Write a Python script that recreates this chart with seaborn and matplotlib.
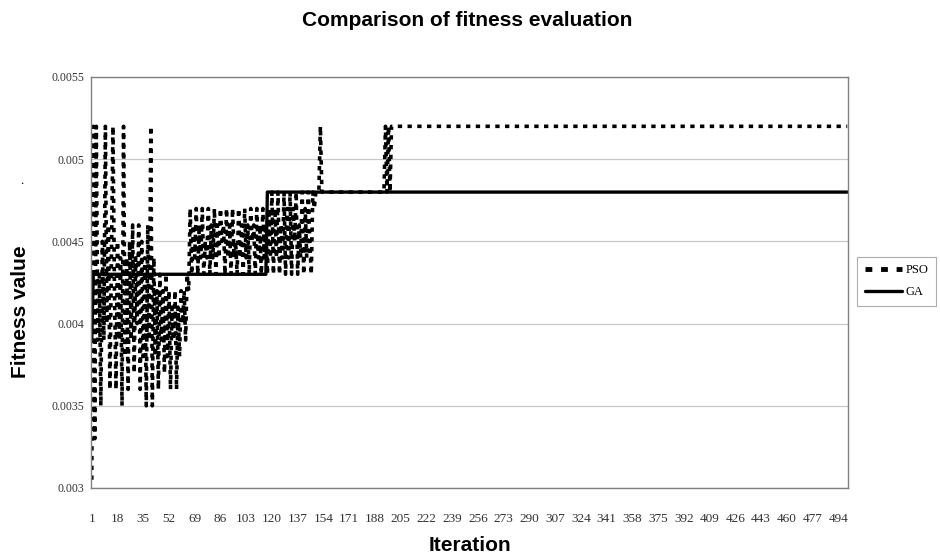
import numpy as np
import pandas as pd
import matplotlib
matplotlib.use("Agg")
import matplotlib.pyplot as plt
import seaborn as sns
from matplotlib.ticker import MultipleLocator
from matplotlib.lines import Line2D

# iterations 1..500
iterations = list(range(1, 501))

# PSO best fitness per iteration
pso_early = [
    0.00305, 0.0052, 0.0033, 0.0052, 0.0039, 0.0043, 0.0035, 0.0045, 0.0039, 0.0052,
    0.0040, 0.0046, 0.0036, 0.0044, 0.0052, 0.0042, 0.0036, 0.0045, 0.0039, 0.0044,
    0.0035, 0.0052, 0.0038, 0.0044, 0.0036, 0.0045, 0.0039, 0.0046, 0.0037, 0.0044,
    0.0040, 0.0046, 0.0036, 0.0045, 0.0038, 0.0044, 0.0035, 0.0046, 0.0039, 0.0052,
    0.0035, 0.0044, 0.0038, 0.0042, 0.0036, 0.0043, 0.0039, 0.0042, 0.0037, 0.0043,
    0.0038, 0.0042, 0.0036, 0.0041, 0.0039, 0.0042, 0.0036, 0.0041, 0.0038, 0.0042,
    0.0040, 0.0042, 0.0039, 0.0043, 0.0042, 0.0047, 0.0043, 0.0046, 0.0044, 0.0047,
    0.0043, 0.0046, 0.0044, 0.0047, 0.0043, 0.0045, 0.0044, 0.0047, 0.0043, 0.0046,
    0.0044, 0.0047, 0.0043, 0.0046, 0.0044, 0.0047, 0.0045, 0.0046, 0.0043, 0.0047,
    0.0044, 0.0046, 0.0043, 0.0047, 0.0044, 0.0045, 0.0043, 0.0047, 0.0044, 0.0046,
    0.0043, 0.0047, 0.0044, 0.0046, 0.0043, 0.0047, 0.0045, 0.0046, 0.0043, 0.0047,
    0.0044, 0.0046, 0.0043, 0.0047, 0.0044, 0.0046, 0.0043, 0.0047, 0.0044, 0.0048,
    0.0043, 0.0047, 0.0044, 0.0048, 0.0043, 0.0046, 0.0044, 0.0048, 0.0043, 0.0047,
    0.0044, 0.0048, 0.0043, 0.0047, 0.0045, 0.0048, 0.0043, 0.0046, 0.0044, 0.0048,
    0.0043, 0.0047, 0.0044, 0.0048, 0.0045, 0.0043, 0.0048, 0.0047, 0.0048, 0.0048,
    0.0048, 0.0052, 0.0048, 0.0048, 0.0048,
]
pso_plateau = [0.0048] * 38          # iterations 156-193
pso_jump = [0.0048, 0.0052, 0.0048, 0.0052, 0.0048, 0.0052, 0.0052]   # 194-200
pso_final = [0.0052] * 300           # 201-500
pso = pso_early + pso_plateau + pso_jump + pso_final

# GA best fitness per iteration
ga_start = [0.0039]
ga_first = [0.0043] * 115            # 2-116
ga_second = [0.0048] * 384           # 117-500
ga = ga_start + ga_first + ga_second

xtick_labels = list(range(1, 501, 17))
ytick_values = [0.003, 0.0035, 0.004, 0.0045, 0.005, 0.0055]
ytick_labels = ["0.003", "0.0035", "0.004", "0.0045", "0.005", "0.0055"]

df = pd.DataFrame({
    "Iteration": iterations * 2,
    "Fitness": pso + ga,
    "Method": ["PSO"] * 500 + ["GA"] * 500,
})

sns.set_style("white")
plt.rcParams["font.family"] = ["Liberation Serif", "DejaVu Serif"]
plt.rcParams["text.color"] = "black"

fig = plt.figure(figsize=(9.4, 5.55), dpi=100)
ax = fig.add_axes([91 / 940, 1 - 488 / 555, (848 - 91) / 940, (488 - 77) / 555])

sns.lineplot(data=df, x="Iteration", y="Fitness", hue="Method", style="Method",
             palette={"PSO": "black", "GA": "black"},
             dashes={"PSO": (1.2, 1.5), "GA": ""},
             size="Method", sizes={"PSO": 2.6, "GA": 2.4},
             legend=False, ax=ax, estimator=None)

ax.set_xlim(0.5, 500.5)
ax.set_ylim(0.003, 0.0055)
ax.set_xticks(xtick_labels)
ax.set_xticklabels([str(v) for v in xtick_labels], fontsize=9.5, color="#333333")
ax.xaxis.set_minor_locator(MultipleLocator(1))
ax.tick_params(axis="x", which="both", direction="in", length=3, width=0.5,
               color="#777777", pad=18)
ax.set_yticks(ytick_values)
ax.set_yticklabels(ytick_labels, fontsize=8.5, color="#333333")
ax.tick_params(axis="y", length=0, pad=5)
ax.yaxis.grid(True, color="#c8c8c8", linewidth=0.9)
ax.set_axisbelow(True)
for s in ax.spines.values():
    s.set_color("#808080")
    s.set_linewidth(1.0)

ax.set_xlabel("Iteration", fontsize=15, fontweight="bold", color="black",
              family=["Liberation Sans", "DejaVu Sans"], labelpad=8)
ax.set_ylabel("Fitness value", fontsize=15, fontweight="bold", color="black",
              family=["Liberation Sans", "DejaVu Sans"])
ax.yaxis.set_label_coords(-0.080, 0.43)

fig.suptitle("Comparison of fitness evaluation", x=0.497, y=0.98, fontsize=15,
             fontweight="bold", color="black", family=["Liberation Sans", "DejaVu Sans"])
fig.text(22 / 940, 1 - 181 / 555, ".", fontsize=9, ha="center", va="center")

handles = [Line2D([], [], color="black", lw=3.5, dashes=(1.4, 1.8)),
           Line2D([], [], color="black", lw=2.4)]
leg = fig.legend(handles, ["PSO", "GA"], loc="center left",
                 bbox_to_anchor=(851 / 940, 1 - 281 / 555), fontsize=9,
                 frameon=True, fancybox=False, handlelength=3.0,
                 handletextpad=0.3, borderpad=0.6, labelspacing=0.8)
leg.get_frame().set_edgecolor("#999999")
leg.get_frame().set_linewidth(0.8)

fig.savefig("out.png", dpi=100)
